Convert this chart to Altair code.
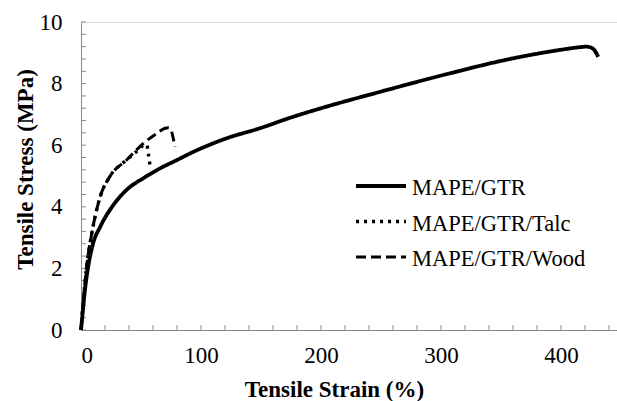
import altair as alt
import pandas as pd

series_names = ["MAPE/GTR", "MAPE/GTR/Talc", "MAPE/GTR/Wood"]

gtr_strain = [0, 1, 3, 6, 10, 16, 27, 38, 52, 66, 80, 94, 121, 149, 175, 200, 249, 305, 360, 402, 415, 421, 425, 428, 431]
gtr_stress = [0, 0.4, 1.2, 2.06, 2.8, 3.35, 4.06, 4.55, 4.93, 5.25, 5.52, 5.79, 6.22, 6.55, 6.9, 7.2, 7.73, 8.31, 8.82, 9.11, 9.18, 9.2, 9.17, 9.08, 8.87]

talc_strain = [0, 1, 2, 4.7, 9, 16, 24, 38, 48, 53, 55, 56, 57.5]
talc_stress = [0, 0.5, 0.97, 2.06, 3.14, 4.33, 4.98, 5.52, 5.85, 6.02, 6.0, 5.75, 5.35]

wood_strain = [0, 1, 2, 4.7, 9, 16, 24, 38, 52, 63, 70, 73, 75.5, 77, 78.3]
wood_stress = [0, 0.5, 0.97, 2.06, 3.14, 4.33, 4.98, 5.52, 6.06, 6.38, 6.55, 6.57, 6.44, 6.2, 5.95]

x_label_values = [0, 100, 200, 300, 400]
y_label_values = [0, 2, 4, 6, 8, 10]
x_minor_ticks = [0, 20, 40, 60, 80, 100, 120, 140, 160, 180, 200, 220, 240, 260, 280, 300, 320, 340, 360, 380, 400, 420, 440]
y_minor_ticks = [0, 0.4, 0.8, 1.2, 1.6, 2.0, 2.4, 2.8, 3.2, 3.6, 4.0, 4.4, 4.8, 5.2, 5.6, 6.0, 6.4, 6.8, 7.2, 7.6, 8.0, 8.4, 8.8, 9.2, 9.6, 10.0]

rows = []
for name, xs, ys in [
    (series_names[0], gtr_strain, gtr_stress),
    (series_names[1], talc_strain, talc_stress),
    (series_names[2], wood_strain, wood_stress),
]:
    for i, (a, b) in enumerate(zip(xs, ys)):
        rows.append({"series": name, "strain": a, "stress": b, "idx": i})
df = pd.DataFrame(rows)
legend_df = pd.DataFrame({"series": series_names, "row": [0, 1, 2]})

W, H = 536, 308
FONT = "Liberation Serif"
GREY = "#8a8a8a"

xscale = alt.Scale(domain=[0, 446.67], nice=False, zero=False)
yscale = alt.Scale(domain=[0, 10], nice=False)
dash_scale = alt.Scale(domain=series_names, range=[[1, 0], [3, 5], [10, 5]])
width_scale = alt.Scale(domain=series_names, range=[3.8, 3.0, 4.0])
legend_y = alt.Scale(domain=[0, 2], range=[164, 235])

lines = alt.Chart(df).mark_line(color="black", strokeCap="butt", strokeJoin="round",
                                interpolate="monotone").encode(
    x=alt.X("strain:Q", scale=xscale,
            axis=alt.Axis(values=x_label_values, ticks=False, grid=False, domainColor=GREY,
                          labelFontSize=23, labelFont=FONT, labelColor="black", labelPadding=14,
                          title="Tensile Strain (%)", titleFont=FONT, titleFontSize=23,
                          titleFontWeight="bold", titleColor="black", titleX=253, titleY=66,
                          titleAlign="center", titleBaseline="alphabetic")),
    y=alt.Y("stress:Q", scale=yscale,
            axis=alt.Axis(values=y_label_values, ticks=False, grid=False, domainColor=GREY,
                          labelFontSize=23, labelFont=FONT, labelColor="black", labelPadding=19,
                          title="Tensile Stress (MPa)", titleFont=FONT, titleFontSize=23,
                          titleFontWeight="bold", titleColor="black", titleX=-49, titleY=147,
                          titleAngle=270, titleAlign="center", titleBaseline="alphabetic")),
    strokeDash=alt.StrokeDash("series:N", scale=dash_scale, legend=None),
    strokeWidth=alt.StrokeWidth("series:N", scale=width_scale, legend=None),
    order="idx:Q",
)

yticks = alt.Chart(pd.DataFrame({"v": y_minor_ticks})).mark_rule(color=GREY, strokeWidth=1).encode(
    y=alt.Y("v:Q", scale=yscale), x=alt.value(0), x2=alt.value(5)
)
xticks = alt.Chart(pd.DataFrame({"v": x_minor_ticks})).mark_rule(color=GREY, strokeWidth=1).encode(
    x=alt.X("v:Q", scale=xscale), y=alt.value(H), y2=alt.value(H - 5)
)

plot = alt.layer(yticks, xticks, lines)

leg_lines = alt.Chart(legend_df).mark_rule(color="black", strokeCap="butt").encode(
    y=alt.Y("row:Q", scale=legend_y, axis=None),
    x=alt.value(275), x2=alt.value(325),
    strokeDash=alt.StrokeDash("series:N", scale=dash_scale, legend=None),
    strokeWidth=alt.StrokeWidth("series:N", scale=width_scale, legend=None),
)
leg_text = alt.Chart(legend_df).mark_text(align="left", baseline="alphabetic", dy=9,
                                          font=FONT, fontSize=22.5, color="black").encode(
    y=alt.Y("row:Q", scale=legend_y, axis=None),
    x=alt.value(331),
    text="series:N",
)
legend = alt.layer(leg_lines, leg_text)

chart = alt.layer(plot, legend).resolve_scale(y="independent").properties(
    width=W, height=H,
    autosize=alt.AutoSizeParams(type="none"),
    padding={"left": 81, "top": 22, "right": 0, "bottom": 71},
).configure_view(stroke=None).configure(background="white")

chart.save("out.html", embed_options={"renderer": "svg", "actions": False})
